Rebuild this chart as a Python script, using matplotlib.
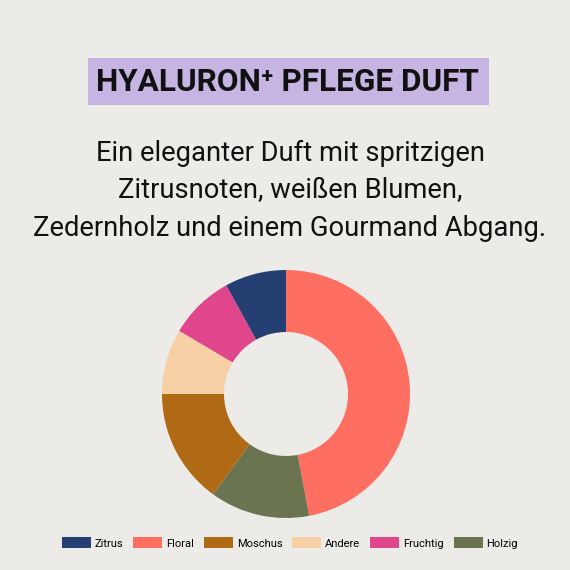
import matplotlib
matplotlib.use('Agg')
import matplotlib.pyplot as plt
from matplotlib.patches import Rectangle, Patch

# data
kategorien = ['Floral', 'Holzig', 'Moschus', 'Andere', 'Fruchtig', 'Zitrus']
anteile = [47, 13, 15, 8.5, 8.5, 8]
farben = ['#ff6f61', '#6b7451', '#b06a15', '#f8d0a5', '#e0468c', '#253f73']
legende_reihenfolge = ['Zitrus', 'Floral', 'Moschus', 'Andere', 'Fruchtig', 'Holzig']

titel = 'HYALURON\u207a PFLEGE DUFT'
untertitel = ['Ein eleganter Duft mit spritzigen',
              'Zitrusnoten, weißen Blumen,',
              'Zedernholz und einem Gourmand Abgang.']

hintergrund = '#ecebe7'
titelbox = '#c6b4e3'

W = H = 570
fig = plt.figure(figsize=(5.7, 5.7), dpi=100, facecolor=hintergrund)
renderer = fig.canvas.get_renderer()

def px(x, y):
    # pixel from top-left -> figure fraction
    return x / W, 1 - y / H

def breite_anpassen(t, ziel):
    # scale font size so the text is ziel pixels wide
    b = t.get_window_extent(renderer).width
    t.set_fontsize(t.get_fontsize() * ziel / b)

# title box
x0, y0 = px(88, 105)
fig.patches.append(Rectangle((x0, y0), (489 - 88) / W, (105 - 58) / H,
                             transform=fig.transFigure, facecolor=titelbox,
                             edgecolor='none', zorder=0))
tx, ty = px(287, 82)
t = fig.text(tx, ty, titel, ha='center', va='center', fontsize=30, fontweight='bold',
             family=['Roboto', 'DejaVu Sans'], color='#111111')
breite_anpassen(t, 382)

# subtitle
zeilen = []
for i, zeile in enumerate(untertitel):
    sx, sy = px(290, 153 + i * 38)
    zeilen.append(fig.text(sx, sy, zeile, ha='center', va='center', fontsize=19,
                           family=['Roboto', 'DejaVu Sans'], color='#111111'))
b = zeilen[2].get_window_extent(renderer).width
for z in zeilen:
    z.set_fontsize(19 * 514 / b)

# donut
r = 124
ax = fig.add_axes([(286 - r) / W, (570 - 394 - r) / H, 2 * r / W, 2 * r / H])
ax.set_facecolor('none')
keile, _ = ax.pie(anteile, colors=farben, startangle=90, counterclock=False,
                  wedgeprops=dict(width=0.5, edgecolor='none'))
ax.set_xlim(-1, 1)
ax.set_ylim(-1, 1)
ax.set_aspect('equal')
ax.axis('off')

# legend
handles = [Patch(facecolor=farben[kategorien.index(k)], edgecolor='none')
           for k in legende_reihenfolge]
lx, ly = px(290, 543)
fig.legend(handles, legende_reihenfolge, loc='center', bbox_to_anchor=(lx, ly),
           ncol=6, frameon=False, handlelength=2.6, handleheight=1.1,
           handletextpad=0.35, columnspacing=0.9,
           prop={'family': ['Roboto', 'DejaVu Sans'], 'size': 8})

fig.savefig('out.png', dpi=100, facecolor=hintergrund)
